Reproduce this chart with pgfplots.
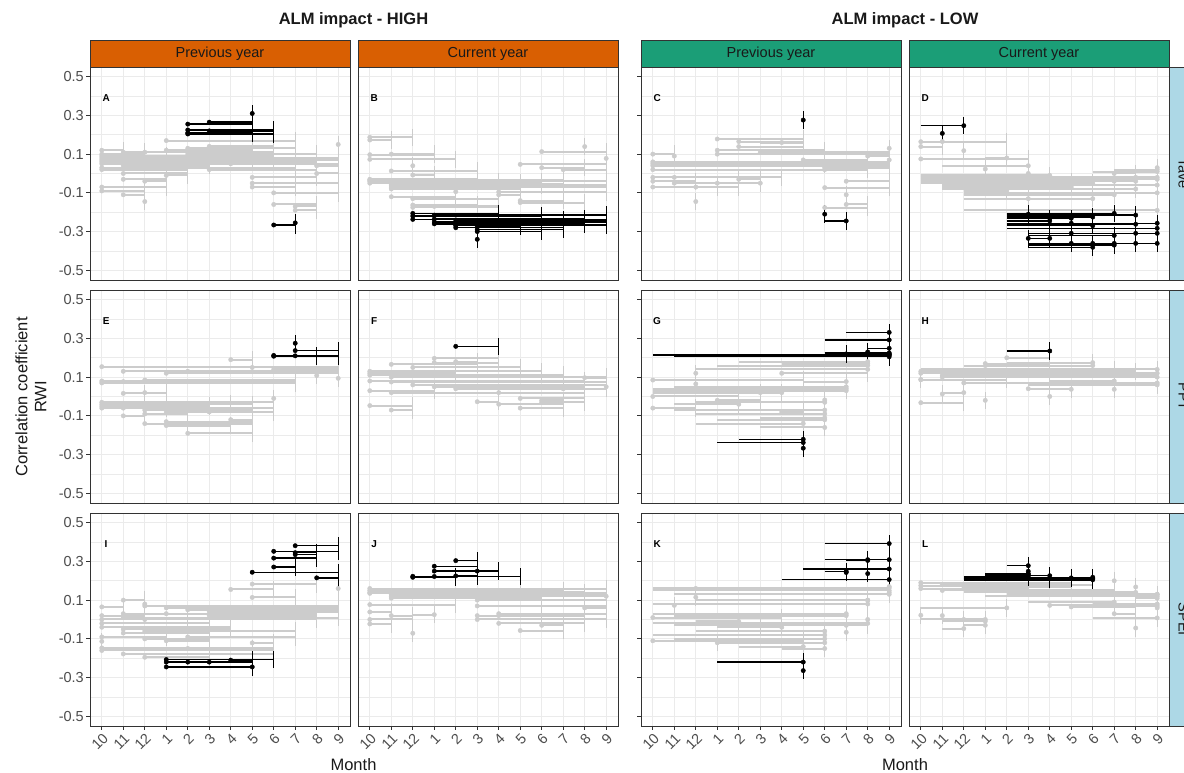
\documentclass[border=0pt]{standalone}
\usepackage{pgfplots}
\pgfplotsset{compat=1.18}
\usepackage{pgfplotstable}
\usepackage{fontspec}
\setmainfont{Liberation Sans}
\definecolor{hi}{HTML}{D95F02}
\definecolor{lo}{HTML}{1B9E77}
\definecolor{stripb}{HTML}{ADD8E6}
\definecolor{gridc}{HTML}{EBEBEB}
\definecolor{border}{HTML}{333333}
\definecolor{tlab}{HTML}{4D4D4D}
\definecolor{dgray}{HTML}{CCCCCC}

% ---------------- data: s = window start, e = window end, y = correlation, p = point month (1 = Oct ... 12 = Sep)
\pgfplotstableread{
s e y p
1 2 0.12 1
1 3 0.10 1
1 4 0.09 1
1 6 0.08 1
1 8 0.07 1
1 9 0.06 1
1 12 0.05 1
1 10 0.03 1
1 5 0.02 1
1 4 -0.07 1
1 3 -0.09 1
2 3 0.11 2
2 9 0.09 2
2 12 0.07 2
2 6 0.04 2
2 5 0.00 2
2 4 -0.03 2
2 3 -0.11 2
3 9 0.11 3
3 11 0.06 3
3 4 -0.04 3
3 3 -0.145 3
4 10 0.17 4
4 8 0.12 4
4 5 -0.01 4
5 10 0.13 5
5 11 0.10 5
5 12 0.08 5
6 9 0.14 6
6 11 0.02 6
7 10 0.10 7
7 12 0.05 7
8 11 -0.02 8
8 12 -0.05 8
8 10 -0.07 8
9 12 -0.10 9
9 11 -0.16 9
10 11 -0.19 10
10 11 -0.17 10
11 12 0.04 11
11 12 0.00 11
12 12 0.15 12
}\gA
\pgfplotstableread{
s e y p
5 9 0.225 5
5 8 0.21 5
5 9 0.204 5
6 9 0.22 6
5 8 0.255 5
6 8 0.265 6
8 8 0.31 8
9 10 -0.266 9
10 10 -0.255 10
}\bA
\pgfplotstableread{
s e y p
1 3 0.187 1
1 2 0.173 1
1 4 0.097 1
1 5 0.073 1
2 4 0.10 2
2 6 0.013 2
3 3 0.04 3
3 4 -0.008 3
1 6 -0.03 1
1 7 -0.04 1
1 10 -0.035 1
1 8 -0.05 1
2 9 -0.06 2
2 12 -0.07 2
2 8 -0.08 2
2 10 -0.055 2
2 5 -0.12 2
3 7 -0.13 3
3 6 -0.163 3
3 7 -0.175 3
4 7 -0.17 4
5 5 -0.094 5
7 12 -0.095 7
7 8 -0.11 7
8 12 0.047 8
8 11 -0.15 8
9 12 0.113 9
9 11 0.03 9
10 12 0.02 10
11 11 0.139 11
12 12 0.078 12
8 12 -0.04 8
9 12 -0.06 9
8 10 -0.14 8
6 12 -0.07 6
5 9 -0.045 5
}\gB
\pgfplotstableread{
s e y p
3 7 -0.206 3
3 9 -0.22 3
3 10 -0.237 3
4 12 -0.215 4
4 11 -0.235 4
4 10 -0.25 4
4 9 -0.26 4
5 12 -0.24 5
5 11 -0.255 5
5 9 -0.265 5
5 10 -0.28 5
5 12 -0.27 5
6 11 -0.26 6
6 12 -0.25 6
6 10 -0.29 6
6 9 -0.30 6
6 6 -0.34 6
6 8 -0.275 6
7 12 -0.265 7
7 11 -0.255 7
}\bB
\pgfplotstableread{
s e y p
4 8 0.178 4
5 8 0.165 5
6 8 0.16 7
5 8 0.139 5
4 9 0.12 4
4 12 0.10 4
6 12 0.11 6
1 2 0.10 1
1 12 0.06 1
1 12 0.04 1
1 11 0.02 1
1 9 0.05 1
1 5 -0.02 1
1 3 -0.04 1
1 4 -0.07 1
2 2 0.09 2
2 7 -0.02 2
2 6 -0.05 2
3 3 -0.145 3
3 5 -0.07 3
4 5 -0.05 4
5 6 -0.03 5
6 6 -0.05 6
7 12 0.05 7
8 11 0.07 8
9 12 0.03 9
9 11 0.02 9
10 12 -0.04 10
9 12 -0.073 9
10 10 -0.11 10
10 11 -0.16 10
9 11 -0.176 9
11 12 0.09 11
12 12 0.07 12
12 12 0.13 12
}\gC
\pgfplotstableread{
s e y p
8 8 0.276 8
9 9 -0.21 9
9 10 -0.245 10
}\bC
\pgfplotstableread{
s e y p
1 5 0.164 1
1 2 0.139 1
2 5 0.165 2
3 3 0.118 3
1 6 0.075 1
2 6 0.04 6
4 5 0.08 5
4 4 0.023 4
1 7 -0.01 7
1 12 -0.03 12
1 10 -0.04 10
1 11 -0.02 11
1 9 -0.05 9
2 12 -0.06 12
2 8 -0.07 8
2 11 -0.08 11
3 12 -0.10 12
3 10 -0.11 10
3 9 -0.13 9
3 12 -0.19 12
3 5 -0.09 5
4 6 -0.13 6
9 12 0.01 12
10 12 0.02 12
11 12 -0.02 12
9 11 -0.04 11
10 11 0.00 10
6 6 0.00 6
7 7 -0.03 7
8 8 -0.04 8
12 12 0.03 12
}\gD
\pgfplotstableread{
s e y p
1 3 0.247 3
2 2 0.207 2
5 10 -0.206 10
5 11 -0.215 11
5 9 -0.225 9
5 8 -0.231 8
5 7 -0.231 7
5 12 -0.257 12
5 11 -0.262 11
5 9 -0.27 9
5 8 -0.257 8
5 7 -0.245 7
5 12 -0.283 12
5 6 -0.21 6
6 12 -0.309 12
6 11 -0.309 11
6 10 -0.32 10
6 8 -0.309 8
6 7 -0.335 7
6 6 -0.335 6
6 12 -0.361 12
6 11 -0.361 11
6 10 -0.361 10
6 9 -0.361 9
6 8 -0.361 8
6 9 -0.381 9
6 10 -0.37 10
}\bD
\pgfplotstableread{
s e y p
1 12 0.154 1
2 12 0.13 2
5 12 0.13 5
7 8 0.19 7
8 12 0.15 8
9 12 0.14 9
4 12 0.12 4
2 10 0.077 2
1 10 0.08 1
1 10 0.07 1
3 10 0.085 3
11 11 0.108 11
12 12 0.094 12
2 3 0.016 2
3 4 0.02 3
9 9 -0.01 9
1 9 -0.03 1
1 8 -0.04 1
1 6 -0.05 1
2 9 -0.06 2
2 7 -0.035 2
3 8 -0.07 3
3 5 -0.09 3
1 4 -0.06 1
2 3 -0.10 2
4 9 -0.08 4
3 5 -0.14 3
4 8 -0.13 4
4 7 -0.15 4
5 8 -0.14 5
5 8 -0.19 5
6 8 -0.08 6
7 8 -0.12 7
}\gE
\pgfplotstableread{
s e y p
9 11 0.212 9
9 11 0.208 9
10 12 0.237 10
10 10 0.275 10
10 12 0.21 10
}\bE
\pgfplotstableread{
s e y p
4 7 0.197 4
4 7 0.175 4
5 6 0.18 5
2 6 0.166 2
3 8 0.15 3
1 9 0.13 1
1 10 0.11 1
2 12 0.10 2
1 5 0.12 1
1 11 0.08 1
2 12 0.075 2
3 12 0.06 3
4 11 0.05 4
5 12 0.04 5
1 4 0.03 1
2 7 0.02 2
11 12 0.097 11
12 12 0.05 12
7 11 0.02 7
8 11 -0.01 8
9 10 -0.02 9
6 7 -0.027 6
7 10 -0.04 7
8 10 -0.06 8
1 3 -0.047 1
2 3 -0.07 2
9 11 -0.03 9
10 12 0.04 10
}\gF
\pgfplotstableread{
s e y p
5 7 0.259 5
}\bF
\pgfplotstableread{
s e y p
5 11 0.18 11
4 11 0.16 11
7 11 0.17 11
3 11 0.14 11
3 3 0.12 3
3 3 0.065 3
7 11 0.12 7
1 8 0.085 1
8 10 0.077 10
1 10 0.04 10
2 10 0.05 10
1 10 0.03 10
1 5 0.00 1
1 7 0.02 7
2 6 0.02 6
2 5 -0.04 5
3 9 -0.03 9
2 9 -0.07 9
3 9 -0.09 9
4 9 -0.12 9
3 8 -0.14 8
5 8 -0.12 8
6 9 -0.11 9
7 8 -0.08 7
1 3 -0.06 1
9 9 -0.018 9
4 6 -0.02 4
6 9 -0.16 9
}\gG
\pgfplotstableread{
s e y p
1 12 0.214 12
2 12 0.205 12
7 12 0.215 12
9 12 0.225 12
10 11 0.22 11
10 10 0.22 10
10 12 0.331 12
9 12 0.292 12
11 12 0.249 12
11 11 0.23 11
12 12 0.22 12
4 8 -0.238 8
5 8 -0.221 8
8 8 -0.267 8
}\bG
\pgfplotstableread{
s e y p
5 7 0.20 5
4 7 0.17 4
3 9 0.16 9
5 9 0.175 9
1 12 0.12 1
1 11 0.13 1
2 12 0.11 2
2 10 0.10 2
4 10 0.14 4
1 5 0.087 1
1 1 0.087 1
6 12 0.06 12
7 10 0.08 10
10 12 0.10 12
11 12 0.12 12
2 2 0.013 2
2 3 0.02 3
1 3 -0.032 1
4 4 -0.02 4
7 7 0.00 7
8 8 0.037 8
10 10 0.037 10
3 7 0.07 3
6 8 0.04 6
1 12 0.14 12
3 12 0.07 12
}\gH
\pgfplotstableread{
s e y p
5 7 0.235 7
}\bH
\pgfplotstableread{
s e y p
7 9 0.155 7
8 11 0.183 8
8 10 0.114 8
12 12 0.16 12
2 3 0.10 2
3 3 0.08 3
1 2 0.065 1
1 3 0.02 1
1 5 0.00 1
2 5 0.03 2
3 12 0.07 3
4 12 0.06 4
5 12 0.05 5
6 12 0.04 6
4 11 0.03 4
6 11 0.02 6
2 12 0.01 2
3 11 0.00 3
1 6 -0.02 1
1 7 -0.04 1
2 7 -0.05 2
3 10 -0.06 3
2 6 -0.07 2
1 4 -0.09 1
3 6 -0.10 3
5 10 -0.09 5
4 6 -0.11 4
1 9 -0.147 1
1 9 -0.16 1
2 9 -0.178 2
3 6 -0.195 3
8 9 -0.121 8
5 8 -0.15 5
1 1 -0.113 1
}\gI
\pgfplotstableread{
s e y p
9 12 0.352 9
9 11 0.317 9
9 10 0.271 9
10 12 0.381 10
10 11 0.345 10
10 11 0.335 10
8 12 0.244 8
11 12 0.215 11
4 9 -0.207 4
4 8 -0.22 4
4 8 -0.245 4
5 8 -0.22 5
6 8 -0.22 6
8 8 -0.245 8
7 8 -0.21 7
}\bI
\pgfplotstableread{
s e y p
1 12 0.16 1
1 10 0.15 1
1 11 0.14 1
2 12 0.13 2
3 12 0.12 3
2 9 0.11 2
6 12 0.10 6
5 11 0.12 5
4 8 0.15 4
1 12 0.135 1
2 9 0.12 2
1 5 0.077 1
1 2 0.039 1
1 3 0.00 1
2 3 0.02 2
1 2 -0.023 1
3 4 0.025 4
3 3 -0.071 3
6 12 0.07 6
7 12 0.03 7
7 9 0.02 7
6 11 0.02 6
6 12 0.00 6
7 11 -0.02 7
8 10 -0.057 8
9 10 -0.03 9
11 12 0.06 11
12 12 0.12 12
}\gJ
\pgfplotstableread{
s e y p
5 6 0.304 5
4 6 0.275 4
4 7 0.25 4
6 7 0.25 6
3 8 0.223 3
3 5 0.218 3
4 5 0.222 4
5 6 0.225 5
}\bJ
\pgfplotstableread{
s e y p
1 12 0.163 12
1 12 0.15 12
2 12 0.13 12
3 12 0.16 3
3 11 0.10 11
1 11 0.08 11
5 11 0.10 11
3 3 0.115 3
2 2 0.073 2
1 7 0.01 1
1 10 0.03 10
2 10 0.02 10
1 11 -0.02 11
2 11 -0.03 10
3 5 -0.01 5
3 6 -0.03 6
4 7 -0.04 7
3 9 -0.06 9
1 9 -0.08 9
2 9 -0.10 9
4 9 -0.12 9
5 8 -0.14 8
7 9 -0.15 9
4 4 -0.12 4
1 8 -0.11 1
11 11 0.00 11
10 10 -0.066 10
12 12 0.17 12
12 12 0.14 12
}\gK
\pgfplotstableread{
s e y p
9 12 0.392 12
9 12 0.309 12
11 11 0.309 11
10 11 0.305 11
8 12 0.261 12
9 10 0.249 10
10 10 0.243 10
11 11 0.237 11
7 12 0.206 12
4 8 -0.22 8
8 8 -0.264 8
}\bK
\pgfplotstableread{
s e y p
1 8 0.19 1
1 7 0.175 1
1 6 0.16 1
2 9 0.18 2
2 10 0.15 2
3 8 0.17 3
5 12 0.13 12
3 11 0.14 11
4 12 0.12 12
10 10 0.20 10
11 11 0.168 11
6 10 0.09 10
8 12 0.07 12
9 12 0.08 12
11 12 0.11 12
12 12 0.13 12
7 10 0.073 7
8 11 0.065 8
12 12 0.06 12
9 12 0.008 12
10 11 0.03 10
11 11 -0.044 11
1 5 0.06 5
1 1 0.022 1
2 2 0.02 2
1 4 0.00 4
3 3 0.00 3
2 4 -0.009 4
3 4 -0.03 4
2 3 -0.047 3
}\gL
\pgfplotstableread{
s e y p
5 6 0.278 6
6 6 0.249 6
6 6 0.235 6
3 9 0.212 9
3 8 0.215 8
4 7 0.226 7
3 7 0.21 7
4 6 0.235 6
3 9 0.205 9
4 9 0.218 9
3 6 0.22 6
}\bL

\pgfplotsset{
  panel/.style={
    scale only axis, width=260pt, height=213pt,
    xmin=0.45, xmax=12.55, ymin=-0.55, ymax=0.55,
    xtick={1,...,12},
    ytick={-0.5,-0.3,-0.1,0.1,0.3,0.5},
    minor ytick={-0.4,-0.2,0,0.2,0.4},
    grid=both,
    major grid style={draw=gridc, line width=1.1pt},
    minor grid style={draw=gridc, line width=0.55pt},
    axis line style={draw=border, line width=0.8pt},
    tick align=outside, major tick length=4pt, minor tick length=0pt,
    tick style={draw=border, line width=0.8pt},
    xtick pos=bottom, ytick pos=left,
    xticklabels={}, yticklabels={},
    ticklabel style={font=\fontsize{14.5}{16}\selectfont, text=tlab},
  },
  nox/.style={xtick style={draw=none}},
  botx/.style={xticklabels={10,11,12,1,2,3,4,5,6,7,8,9},
    xticklabel style={rotate=45, anchor=north east, inner sep=1.5pt}},
  leftlab/.style={yticklabels={-0.5,-0.3,-0.1,0.1,0.3,0.5},
    yticklabel style={anchor=east, inner sep=2pt}},
  noy/.style={ytick style={draw=none}},
}

% #1 table, #2 colour, #3 horizontal line width
\newcommand{\drawset}[3]{%
  \addplot[draw=none, mark=none, error bars/.cd, x dir=plus, x explicit,
    error mark=none, error bar style={draw=#2, line width=#3}]
    table[x=s, y=y, x error expr=\thisrow{e}-\thisrow{s}] {#1};
  \addplot[draw=none, mark=none, error bars/.cd, y dir=both, y fixed=0.045,
    error mark=none, error bar style={draw=#2, line width=1.2pt}]
    table[x=e, y=y] {#1};
  \addplot[only marks, mark=*, mark size=2.2pt, color=#2,
    mark options={solid, draw=#2, fill=#2}]
    table[x=p, y=y] {#1};
}

\newcommand{\panel}[6]{%
  \begin{axis}[panel, at={(#1pt,#2pt)}, anchor=south west, #3]
    \drawset{#4}{dgray}{2pt}
    \drawset{#5}{black}{1.4pt}
    \node[font=\bfseries\fontsize{10}{12}\selectfont] at (axis cs:1.2,0.39) {#6};
  \end{axis}}

\begin{document}
\begin{tikzpicture}
\useasboundingbox (0pt,0pt) rectangle (1184pt,773pt);
\clip (0pt,0pt) rectangle (1184pt,773pt);
\fill[white] (0pt,0pt) rectangle (1184pt,773pt);

% row 1
\panel{90}{493}{nox, leftlab}{\gA}{\bA}{A}
\panel{358}{493}{nox, noy}{\gB}{\bB}{B}
\panel{641}{493}{nox}{\gC}{\bC}{C}
\panel{909}{493}{nox, noy}{\gD}{\bD}{D}
% row 2
\panel{90}{270}{nox, leftlab}{\gE}{\bE}{E}
\panel{358}{270}{nox, noy}{\gF}{\bF}{F}
\panel{641}{270}{nox}{\gG}{\bG}{G}
\panel{909}{270}{nox, noy}{\gH}{\bH}{H}
% row 3
\panel{90}{47}{botx, leftlab}{\gI}{\bI}{I}
\panel{358}{47}{botx, noy}{\gJ}{\bJ}{J}
\panel{641}{47}{botx}{\gK}{\bK}{K}
\panel{909}{47}{botx, noy}{\gL}{\bL}{L}

\begin{scope}[x=1pt, y=1pt, every node/.style={font=\fontsize{14.5}{16}\selectfont, text=black!90}]
% top strips
\draw[fill=hi, draw=border, line width=0.7pt] (90,706) rectangle (350,733);
\node at (220,719.5) {Previous year};
\draw[fill=hi, draw=border, line width=0.7pt] (358,706) rectangle (618,733);
\node at (488,719.5) {Current year};
\draw[fill=lo, draw=border, line width=0.7pt] (641,706) rectangle (901,733);
\node at (771,719.5) {Previous year};
\draw[fill=lo, draw=border, line width=0.7pt] (909,706) rectangle (1169,733);
\node at (1039,719.5) {Current year};
% right strips
\draw[fill=stripb, draw=border, line width=0.7pt] (1169,493) rectangle (1198,706);
\node[rotate=-90] at (1183.5,599.5) {Tave};
\draw[fill=stripb, draw=border, line width=0.7pt] (1169,270) rectangle (1198,483);
\node[rotate=-90] at (1183.5,376.5) {PPT};
\draw[fill=stripb, draw=border, line width=0.7pt] (1169,47) rectangle (1198,260);
\node[rotate=-90] at (1183.5,153.5) {SPEI};
% titles and axis labels
\node[font=\bfseries\fontsize{16.5}{19}\selectfont] at (353.5,753) {ALM impact - HIGH};
\node[font=\bfseries\fontsize{16.5}{19}\selectfont] at (905,753) {ALM impact - LOW};
\node[font=\fontsize{16.5}{19}\selectfont] at (353.5,8) {Month};
\node[font=\fontsize{16.5}{19}\selectfont] at (905,8) {Month};
\node[rotate=90, align=center, font=\fontsize{16.5}{19}\selectfont] at (31,376) {Correlation coefficient\\RWI};
\end{scope}
\end{tikzpicture}
\end{document}
